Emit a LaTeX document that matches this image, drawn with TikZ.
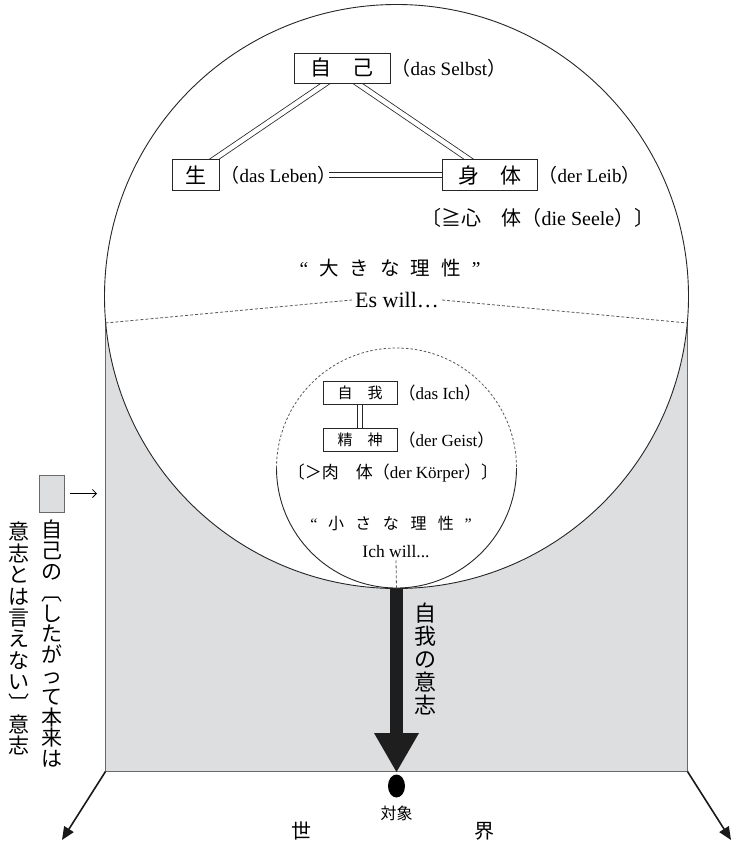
\documentclass[tikz,border=0pt]{standalone}
\usepackage{fontspec}
\setmainfont{Liberation Serif}
\newfontfamily\cjk{Noto Sans CJK JP}
\usetikzlibrary{arrows.meta,calc,shapes.geometric}
\definecolor{bggray}{RGB}{221,222,224}
\definecolor{edgegray}{RGB}{105,105,105}
\definecolor{arrowblack}{RGB}{30,30,30}
\pgfdeclarelayer{front}
\pgfsetlayers{main,front}
\newcommand\jlp{{\cjk （}}
\newcommand\jrp{{\cjk ）}}
\begin{document}
\begin{tikzpicture}[x=1pt,y=-1pt,
  circ/.style={line width=0.9pt, draw=black!85},
  edge/.style={line width=1.3pt, draw=edgegray},
  dashline/.style={draw=black!65, line width=0.8pt, dash pattern=on 3pt off 2pt},
  bigbox/.style={draw=black!85, line width=0.9pt, fill=white, inner sep=0pt, font=\cjk\fontsize{21}{21}\selectfont},
  smallbox/.style={draw=black!85, line width=0.8pt, fill=white, inner sep=0pt, font=\cjk\fontsize{15}{15}\selectfont, minimum width=74pt, minimum height=23pt},
  dbl/.style={draw=black!85, line width=0.8pt, double=white, double distance=4.5pt},
  lbl/.style={inner sep=0pt, anchor=west, font=\fontsize{19}{19}\selectfont},
  slbl/.style={inner sep=0pt, anchor=west, font=\fontsize{17}{17}\selectfont},
  jtxt/.style={inner sep=0pt, font=\fontsize{19.5}{19.5}\selectfont},
  sjtxt/.style={inner sep=0pt, font=\fontsize{16}{16}\selectfont},
  vcolr/.style={inner sep=0pt, anchor=north, align=center, font=\cjk\fontsize{21}{20.8}\selectfont},
  vcoll/.style={inner sep=0pt, anchor=north, align=center, font=\cjk\fontsize{21}{21.4}\selectfont},
  egostyle/.style={inner sep=0pt, anchor=north, align=center, font=\cjk\fontsize{22}{23}\selectfont},
  worldtxt/.style={inner sep=0pt, font=\cjk\fontsize{20}{20}\selectfont},
  cornerarrow/.style={line width=1.6pt, draw=black!90, -{Triangle[length=13pt,width=11pt]}}
]
\useasboundingbox (0,0) rectangle (732,842);
\coordinate (BC) at (396.5,296.5);
\coordinate (SC) at (396.5,468);
\coordinate (RTL) at (105.5,323);
\coordinate (RTR) at (687.5,323);
\coordinate (RBL) at (105.5,771.5);
\coordinate (RBR) at (687.5,771.5);
\coordinate (Bot) at (396.5,589);
\coordinate (Tip) at (396.5,772);
\coordinate (WL) at (62,840);
\coordinate (WR) at (731,840);

% background and circles
\fill[bggray] (RTL) rectangle (RBR);
\fill[white] (BC) circle (292);
\draw[edge] (RTL) -- (RBL) -- (RBR) -- (RTR);
\draw[circ] (BC) circle (292);
\draw[circ] ($(SC)+(-120,0)$) arc[start angle=180,end angle=0,radius=120];
\draw[dashline, dash pattern=on 2.5pt off 2pt] ($(SC)+(-120,0)$) arc[start angle=180,end angle=360,radius=120];

% boxes (front layer)
\begin{pgfonlayer}{front}
\node[bigbox, minimum width=96pt, minimum height=30pt] (self) at (342,68) {自　己};
\node[bigbox, minimum width=47pt, minimum height=31pt] (sei) at (195.5,175) {生};
\node[bigbox, minimum width=95pt, minimum height=31pt] (shintai) at (489.5,175) {身　体};
\node[smallbox] (ich) at (360,393) {自　我};
\node[smallbox] (geist) at (360,440) {精　神};
\end{pgfonlayer}

% labels
\node[lbl] (selbstl) at ($(self.east)+(1,0)$) {\jlp das Selbst\jrp};
\node[lbl] (lebenl) at ($(sei.east)+(1,0)$) {\jlp das Leben\jrp};
\node[lbl] (leibl) at ($(shintai.east)+(1,0)$) {\jlp der Leib\jrp};
\node[inner sep=0pt, font=\fontsize{20}{20}\selectfont] (seele) at (538,218) {{\cjk 〔≧心　体}\jlp die Seele{\cjk ）〕}};
\node[jtxt] (grossv) at (390,268) {“\hspace{11pt}{\cjk 大\hspace{11pt}き\hspace{11pt}な\hspace{11pt}理\hspace{11pt}性}\hspace{11pt}”};
\node[inner sep=3pt, font=\fontsize{22}{22}\selectfont] (eswill) at (397,300) {Es will\dots};

\node[slbl] (ichl) at ($(ich.east)+(1,0)$) {\jlp das Ich\jrp};
\node[slbl] (geistl) at ($(geist.east)+(1,0)$) {\jlp der Geist\jrp};
\node[inner sep=0pt, font=\fontsize{17}{17}\selectfont] (koerper) at (393,473) {{\cjk 〔＞肉　体}\jlp der Körper{\cjk ）〕}};
\node[sjtxt] (kleinv) at (391,523) {“\hspace{10.5pt}{\cjk 小\hspace{11.5pt}さ\hspace{11.5pt}な\hspace{11.5pt}理\hspace{11.5pt}性}\hspace{10.5pt}”};
\node[inner sep=2pt, font=\fontsize{17.5}{17.5}\selectfont] (ichwill) at (396,552) {Ich will...};

% dashed lines
\draw[dashline] (RTL) -- (eswill.west);
\draw[dashline] (eswill.east) -- (RTR);
\draw[dashline] (ichwill.south) -- (Bot);

% double connectors
\coordinate (a1) at ($(self.south west)+(32,0)$);
\coordinate (a2) at ($(sei.north east)+(-5,0)$);
\draw[dbl] ($(a1)!-6pt!(a2)$) -- ($(a2)!-6pt!(a1)$);
\coordinate (b1) at ($(self.south west)+(64,0)$);
\coordinate (b2) at ($(shintai.north west)+(27,0)$);
\draw[dbl] ($(b1)!-6pt!(b2)$) -- ($(b2)!-6pt!(b1)$);
\draw[dbl] ($(lebenl.east)+(-7,0)$) -- ($(shintai.west)+(5,0)$);
\draw[dbl] ($(ich.south)+(0,-4)$) -- ($(geist.north)+(0,4)$);

% big arrow
\fill[arrowblack] ($(Bot)+(-6.5,0)$) rectangle ($(Tip)+(6.5,-37)$);
\fill[arrowblack] ($(Tip)+(-22.5,-39)$) -- ($(Tip)+(22.5,-39)$) -- (Tip) -- cycle;

% ego will text
\node[egostyle] (egowill) at (425,603) {自\\我\\の\\意\\志};

% object and world
\node[ellipse, fill=black, inner sep=0pt, minimum width=17pt, minimum height=23pt] (dot) at (396.5,786) {};
\node[inner sep=0pt, font=\cjk\fontsize{16}{16}\selectfont] (taisho) at (396.5,813) {対象};
\node[worldtxt] (se) at (301,831) {世};
\node[worldtxt] (kai) at (484,831) {界};
\draw[cornerarrow] (RBL) -- (WL);
\draw[cornerarrow] (RBR) -- (WR);

% legend
\node[fill=bggray, draw=edgegray, line width=0.9pt, minimum width=25pt, minimum height=37pt, inner sep=0pt] (leg) at (51.5,493.5) {};
\coordinate (legtip) at (97,493.5);
\draw[line width=0.8pt, -{Straight Barb[length=4pt,width=8pt]}] ($(leg.east)+(6,0)$) -- (legtip);
\node[vcolr] (colr) at (51.5,520) {自\\己\\の\\︹\\し\\た\\が\\っ\\て\\本\\来\\は};
\node[vcoll] (coll) at (19,522) {意\\志\\と\\は\\言\\え\\な\\い\\︺\\意\\志};
\end{tikzpicture}
\end{document}
